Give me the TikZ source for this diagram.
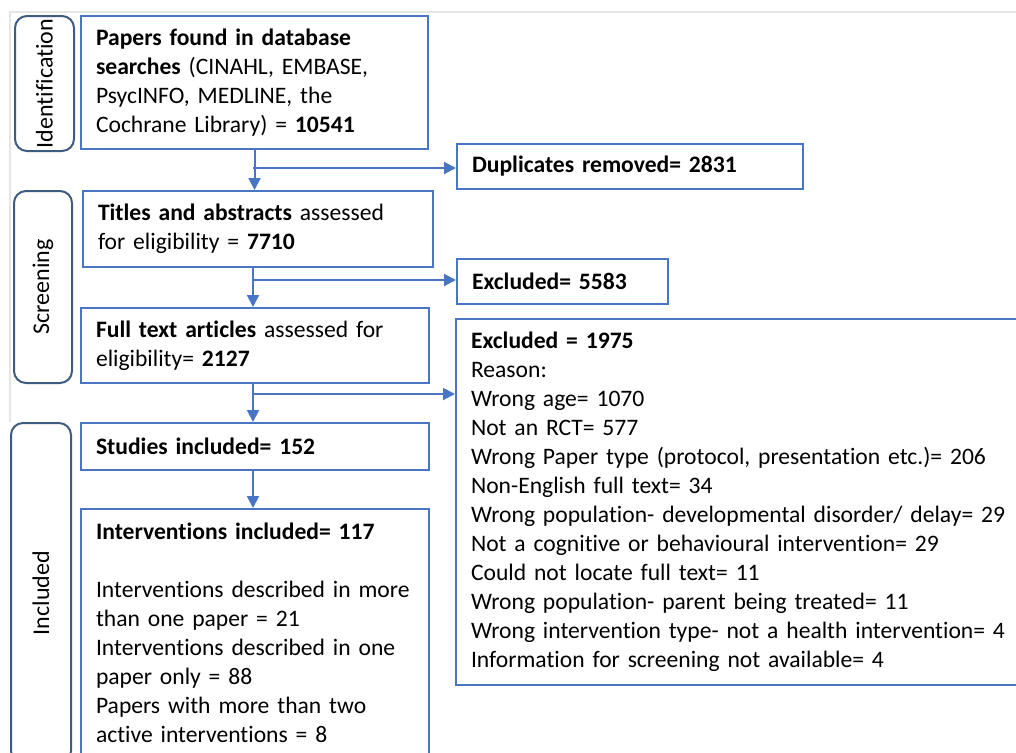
\documentclass[tikz,border=0pt]{standalone}
\usepackage{fontspec}
\setmainfont{Carlito}[Ligatures=NoCommon]
\usetikzlibrary{arrows.meta}
\definecolor{boxblue}{RGB}{72,118,196}
\definecolor{stageblue}{RGB}{62,92,130}

\begin{document}
\begin{tikzpicture}[x=0.5pt,y=-0.5pt,
  box/.style={draw=boxblue,line width=1pt,anchor=north west,align=left,
    inner xsep=7.5pt,inner ysep=2pt,font=\fontsize{11.8}{14.5}\selectfont},
  stage/.style={draw=stageblue,line width=1pt,rounded corners=6pt,rotate=90,
    anchor=north east,inner sep=0pt,font=\fontsize{12}{14.5}\selectfont},
  arr/.style={boxblue,line width=1pt,-{Triangle[length=6pt,width=6pt]}}]
%%Frame
\useasboundingbox (0,0) rectangle (1016,752);
\clip (0,0) rectangle (1016,752);
\draw[black!10,line width=0.6pt] (10,422) -- (10,12) -- (1016,12);

%%Stages
\node[stage,minimum width=67.5pt,minimum height=29.5pt] (ident) at (14,15) {Identification};
\node[stage,minimum width=96pt,minimum height=29pt] (screen) at (13,190) {Screening};
\node[stage,minimum width=170pt,minimum height=30pt] (incl) at (10,422) {Included};

%%Main column
\node[box,text width=158.5pt,minimum height=66.5pt] (found) at (80,15)
  {\textbf{Papers found in database}\\
   \textbf{searches} (CINAHL, EMBASE,\\
   PsycINFO, MEDLINE, the\\
   Cochrane Library) = \textbf{10541}};
\node[box,text width=160pt,minimum height=38pt] (titles) at (82,190)
  {\textbf{Titles and abstracts} assessed\\
   for eligibility = \textbf{7710}};
\node[box,text width=159pt,minimum height=37.5pt] (fulltext) at (80,307)
  {\textbf{Full text articles} assessed for\\
   eligibility= \textbf{2127}};
\node[box,text width=159pt,minimum height=23.5pt] (studies) at (80,422)
  {\textbf{Studies included= 152}};
\node[box,text width=159pt,minimum height=124pt] (interv) at (80,508)
  {\textbf{Interventions included= 117}\\[14.5pt]
   \mbox{Interventions described in more}\\
   than one paper = 21\\
   Interventions described in one\\
   paper only = 88\\
   Papers with more than two\\
   active interventions = 8};

%%Side boxes
\node[box,text width=158pt,minimum height=22.5pt] (dupl) at (456,143)
  {\textbf{Duplicates removed= 2831}};
\node[box,text width=90.5pt,minimum height=22.5pt] (excl) at (456,258)
  {\textbf{Excluded= 5583}};
\node[box,text width=285pt,minimum height=183pt] (reasons) at (455,318)
  {\textbf{Excluded = 1975}\\
   Reason:\\
   Wrong age= 1070\\
   Not an RCT= 577\\
   Wrong Paper type (protocol, presentation etc.)= 206\\
   Non-English full text= 34\\
   Wrong population- developmental disorder/ delay= 29\\
   Not a cognitive or behavioural intervention= 29\\
   Could not locate full text= 11\\
   Wrong population- parent being treated= 11\\
   Wrong intervention type- not a health intervention= 4\\
   Information for screening not available= 4};

%%Connectors
\coordinate (b1) at (253,168);
\coordinate (b2) at (253,280);
\coordinate (b3) at (253,394);
\draw[arr] (found.south) -- (found.south |- titles.north);
\draw[arr] (b1) -- (dupl.west |- b1);
\draw[arr] (titles.south -| b2) -- (fulltext.north -| b2);
\draw[arr] (b2) -- (excl.west |- b2);
\draw[arr] (fulltext.south -| b3) -- (studies.north -| b3);
\draw[arr] (b3) -- (reasons.west |- b3);
\draw[arr] (studies.south -| b3) -- (interv.north -| b3);
\end{tikzpicture}
\end{document}
